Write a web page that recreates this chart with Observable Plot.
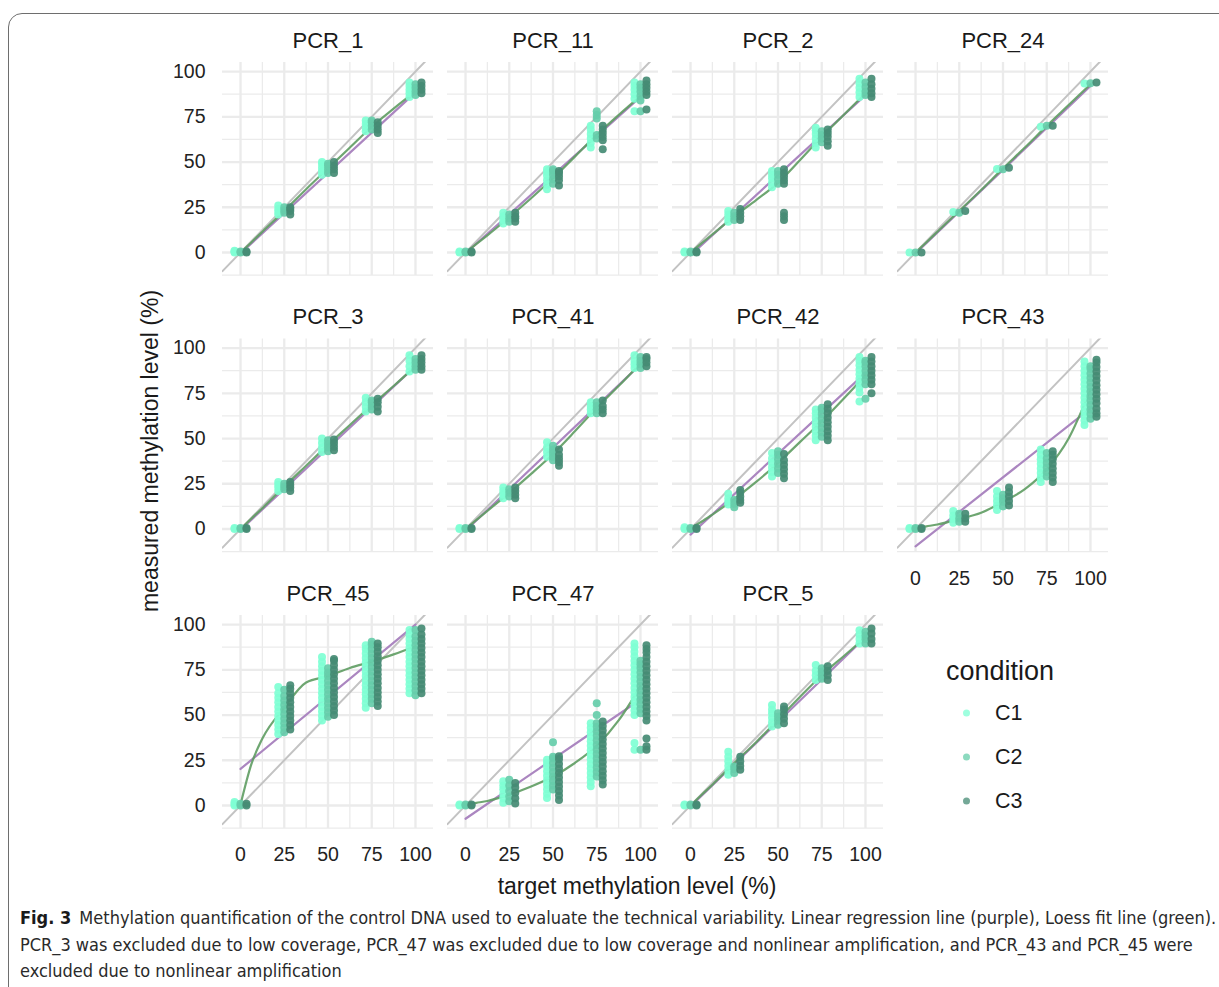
<!DOCTYPE html>
<html><head><meta charset="utf-8">
<script src="https://cdn.jsdelivr.net/npm/d3@7"></script>
<script src="https://cdn.jsdelivr.net/npm/@observablehq/plot@0.6"></script>
<style>
html,body{margin:0;padding:0;background:#fff;overflow:hidden;}
#wrap{position:relative;width:1219px;height:987px;font-family:"Liberation Sans",Arial,Helvetica,sans-serif;color:#1a1a1a;overflow:hidden;}
#frame{position:absolute;left:8px;top:13px;width:1300px;height:1100px;border:1px solid #6e6e6e;border-radius:14px;box-sizing:border-box;}
#chart{position:absolute;left:0;top:0;}
.ytitle{position:absolute;left:150px;top:451px;transform:translate(-50%,-50%) rotate(-90deg);font-size:23px;white-space:nowrap;}
.xtitle{position:absolute;left:637px;top:886px;transform:translate(-50%,-50%);font-size:23px;white-space:nowrap;}
.legtitle{position:absolute;left:946px;top:671px;transform:translateY(-50%);font-size:27px;white-space:nowrap;}
.legitem{position:absolute;left:960px;transform:translateY(-50%);font-size:21.5px;white-space:nowrap;display:flex;align-items:center;}
.legitem span.dot{display:inline-block;width:7px;height:7px;border-radius:50%;margin-right:25px;margin-left:3px;}
#caption{position:absolute;left:20px;top:905px;width:1195px;font-family:"Liberation Sans Narrow","DejaVu Sans Condensed","Roboto Condensed",sans-serif;font-size:18px;line-height:26.5px;color:#2a2a2a;white-space:nowrap;}
#caption b{font-weight:bold;color:#1a1a1a;}
</style>
</head>
<body>
<div id="wrap">
  <div id="frame"></div>
  <div id="chart"></div>
  <div class="ytitle">measured methylation level (%)</div>
  <div class="xtitle">target methylation level (%)</div>
  <div id="legend"></div>
  <div id="caption"></div>
</div>
<script>
// ---------- data ----------
const targets = [0, 25, 50, 75, 100];
const conditions = ["C1", "C2", "C3"];
const conditionColors = ["#7FFFD4", "#66CDAA", "#458B74"];
const panels = ["PCR_1", "PCR_11", "PCR_2", "PCR_24", "PCR_3", "PCR_41", "PCR_42", "PCR_43", "PCR_45", "PCR_47", "PCR_5"];
const majorTicks = [0, 25, 50, 75, 100];
const minorTicksX = [12.5, 37.5, 62.5, 87.5];
const minorTicksY = [-12.5, 12.5, 37.5, 62.5, 87.5];
const loessX = [0, 6.25, 12.5, 25, 37.5, 50, 62.5, 75, 87.5, 100];
const lmX = [0, 100];

// measured values per condition, one list per target level (0,25,50,75,100)
const PCR_1 = {
  C1: [[0, 0.5, 1], [21, 22.5, 24, 26], [43, 45, 47, 49, 50], [67, 69, 71, 73], [86, 88, 90, 92, 94]],
  C2: [[0, 0.5], [22, 23.5, 25], [44, 46, 48, 49], [68, 70, 72, 73], [87, 89, 91, 93]],
  C3: [[0, 0.5], [21, 23, 24, 25], [44, 46, 48, 50], [66, 68, 70, 72], [88, 90, 92, 94]],
  lm: [-0.5, 88.5],
  loess: [0, 5.7, 11.5, 23, 35, 46.5, 58, 69.5, 79.5, 89]
};
const PCR_11 = {
  C1: [[0, 0.5], [16, 18, 20, 22], [35, 37.5, 40, 42.5, 44.5, 46], [58, 60.5, 63, 65.5, 68, 70], [78, 85, 87.5, 90, 92, 94]],
  C2: [[0, 0.5], [17, 19, 21], [38, 40.5, 43, 45, 46], [63, 65, 74, 76, 78], [78, 84, 86.5, 89, 91, 93]],
  C3: [[0, 0.5], [17, 19, 20, 22], [37, 40, 42, 44, 45], [57, 62, 64, 66, 68, 70], [79, 87, 89, 91, 93, 95]],
  lm: [-0.5, 86],
  loess: [0, 4.8, 9.5, 19.5, 30, 41, 53, 65, 76, 86.5]
};
const PCR_2 = {
  C1: [[0, 0.5], [17, 19, 21, 23], [36, 38.5, 41, 43, 45], [58, 60.5, 63, 65.5, 67.5, 69], [86, 88.5, 91, 93.5, 96]],
  C2: [[0, 0.5], [18, 20, 22], [38, 40.5, 43, 45], [61, 63, 65, 67], [87, 89, 91.5, 94]],
  C3: [[0, 0.5], [18, 20, 22, 24], [38, 40, 42, 44, 46, 18, 20, 22], [59, 61.5, 64, 66, 68], [86, 88, 90.5, 93, 96]],
  lm: [-1.5, 87],
  loess: [0, 5, 10, 20, 29, 38.5, 51, 64, 76, 88]
};
const PCR_24 = {
  C1: [[0], [22.4], [46.2], [69.5], [93.4]],
  C2: [[0], [22], [46], [70], [93.5]],
  C3: [[0], [23], [46.8], [70.1], [94]],
  lm: [-0.5, 92],
  loess: [0, 5.7, 11.5, 23, 34.5, 46.5, 58, 70, 81.5, 93]
};
const PCR_3 = {
  C1: [[0, 0.5], [21, 23, 24.5, 26], [42.5, 45, 47.5, 50], [65, 67.5, 70, 72.5], [87, 90, 93, 96]],
  C2: [[0, 0.5], [22, 23.5, 25], [43, 45, 47, 49], [66, 68, 70, 71], [88, 90, 92, 94]],
  C3: [[0, 0.5], [21, 23, 24.5, 26], [43.5, 45.5, 47.5, 49.5], [65, 67.5, 70, 72], [88, 90, 92, 94, 96]],
  lm: [-0.5, 90],
  loess: [0, 5.8, 11.5, 23.5, 35, 46.5, 57.5, 68.5, 79, 90]
};
const PCR_41 = {
  C1: [[0, 0.5], [17, 19, 21, 23], [40, 42.5, 45, 48], [64, 66, 68, 70], [89, 91, 93, 96]],
  C2: [[0, 0.5], [18, 20, 22], [38, 40, 42, 44, 46], [64, 66, 68, 70], [89, 91, 93, 95]],
  C3: [[0, 0.5], [17, 19, 21, 23], [35, 37, 39, 41, 44], [64, 66, 68, 71], [90, 92, 94, 95]],
  lm: [-1, 91],
  loess: [0, 5, 10, 20, 30.5, 41.5, 54, 67, 79, 91.5]
};
const PCR_42 = {
  C1: [[0, 1], [13.5, 15, 17, 19.5], [29, 31.5, 34, 36.5, 39, 42], [49, 51.5, 54, 56.5, 59, 61.5, 64, 66], [70.5, 75.5, 78, 80.5, 83, 85.5, 88, 90.5, 93, 95]],
  C2: [[0, 0.5], [12, 14, 16], [31, 33.5, 36, 38.5, 41, 43], [51, 53.5, 56, 58.5, 61, 63.5, 66, 67], [72, 80, 82.5, 85, 87.5, 90, 92, 93]],
  C3: [[0, 0.5], [14.5, 16, 18, 20, 21.5], [28, 30.5, 33, 35.5, 38, 41.5], [49, 51.5, 54, 56.5, 59, 61.5, 64, 66.5, 69], [75, 80, 82.5, 85, 87.5, 90, 92.5, 95]],
  lm: [-3.1, 86.3],
  loess: [0.5, 4, 8, 16.5, 26, 36.5, 48, 59.5, 72, 85]
};
const PCR_43 = {
  C1: [[0, 0.5], [3.5, 5.5, 7.5, 10], [10.5, 13, 15.5, 18, 21], [26, 28.5, 31, 33.5, 36, 38.5, 41, 44], [57.5, 60, 62.5, 65, 67.5, 70, 72.5, 75, 77.5, 80, 82.5, 85, 87.5, 90, 92.5]],
  C2: [[0, 0.5], [4, 6, 8.5], [12.5, 15, 17, 19], [29, 31.5, 34, 36.5, 39, 42], [61, 63.5, 66, 68.5, 71, 73.5, 76, 78.5, 81, 83.5, 86, 88.5, 90]],
  C3: [[0, 0.5], [4, 6, 8.5], [13, 15.5, 18, 20.5, 23], [26, 28.5, 31, 33.5, 36, 38.5, 41, 43], [62, 64, 66.5, 69.5, 72, 74.5, 77, 79.5, 82, 84.5, 87, 89.5, 92, 93.5]],
  lm: [-9.6, 66.7],
  loess: [0.5, 1.5, 2.5, 5.5, 9, 15, 22, 33, 50, 77]
};
const PCR_45 = {
  C1: [[0, 1, 2], [39.5, 42, 44.5, 47, 49.5, 52, 54.5, 57, 59.5, 62, 65.5], [47, 49.5, 52, 54.5, 57, 59.5, 62, 64.5, 67, 69.5, 72, 74.5, 77, 79.5, 82], [54, 56.5, 59, 61.5, 64, 66.5, 69, 71.5, 74, 76.5, 79, 81.5, 84, 86.5, 88.5], [62, 64.5, 67, 69.5, 72, 74.5, 77, 79.5, 82, 84.5, 87, 89.5, 92, 94.5, 97]],
  C2: [[0, 1], [40.5, 43, 45.5, 48, 50.5, 53, 55.5, 58, 60.5, 64], [49, 51.5, 54, 56.5, 59, 61.5, 64, 66.5, 69, 71.5, 73.5, 75.8], [56.5, 59, 61.5, 64, 66.5, 69, 71.5, 74, 76.5, 79, 81.5, 84, 86.5, 89, 90.5], [61, 63.5, 66, 68.5, 71, 73.5, 76, 78.5, 81, 83.5, 86, 88.5, 91, 93.5, 97]],
  C3: [[0, 1], [42, 44.5, 47, 49.5, 52, 54.5, 57, 59.5, 62, 64.5, 66.5], [50, 52.5, 55, 57.5, 60, 62.5, 65, 67.5, 70, 72.5, 75, 77.5, 80, 81], [55, 57.5, 60, 62.5, 65, 67.5, 70, 72.5, 75, 77.5, 80, 82.5, 85, 87.5, 89.5], [62, 64.5, 67, 69.5, 72, 74.5, 77, 79.5, 82, 84.5, 87, 89.5, 92, 94.5, 97.8]],
  lm: [20.2, 100],
  loess: [0.5, 23, 37, 54, 68, 71.5, 76, 79.5, 83.5, 88]
};
const PCR_47 = {
  C1: [[0, 0.5], [1.5, 4, 6.5, 9, 11, 13.4], [4.2, 6.5, 9, 11.5, 14, 16.5, 19, 21.5, 23.5, 25.3], [10.6, 13, 15.5, 18, 20.5, 23, 25.5, 28, 30.5, 33, 35.5, 38, 40.5, 43, 45.5], [30.8, 34.5, 50, 52.5, 55, 57.5, 60, 62.5, 65, 67.5, 70, 72.5, 75, 77.5, 80, 82.5, 85, 87.5, 89.5]],
  C2: [[0, 0.5], [2.4, 5, 8, 11, 14.3], [8.8, 11, 13.5, 16, 18.5, 21, 23.5, 26, 27, 34.9], [16, 18.5, 21, 23.5, 26, 28.5, 31, 33.5, 36, 38.5, 41, 43.5, 45.5, 50, 56.5], [30.8, 51, 53.5, 56, 58.5, 61, 63.5, 66, 68.5, 71, 73.5, 76, 78, 80]],
  C3: [[0, 0.5], [1.1, 4, 7, 10, 12.5], [3, 5.5, 8, 10.5, 13, 15.5, 18, 20.5, 23, 25.5, 27.2], [11.6, 14, 16.5, 19, 21.5, 24, 26.5, 29, 31.5, 34, 36.5, 39, 41.5, 44, 46.4], [30.8, 32.7, 37, 47, 49.5, 52, 54.5, 57, 59.5, 62, 64.5, 67, 69.5, 72, 74.5, 77, 79.5, 82, 84.5, 86.5, 88.6]],
  lm: [-7.3, 58.6],
  loess: [0.5, 1.5, 2.5, 6, 10.5, 16, 23.5, 33, 47, 66]
};
const PCR_5 = {
  C1: [[0, 0.5], [17, 19.5, 22, 24.5, 27, 29.7], [43.7, 46, 48.5, 51, 53, 55.6], [69.4, 72, 74.5, 77.6], [89.5, 92, 94.5, 96.9]],
  C2: [[0, 0.5], [18, 20, 21.6], [44.6, 47, 49, 51], [70, 72, 74, 75.8], [89.5, 92, 94, 96]],
  C3: [[0, 0.5], [19.8, 22, 24.5, 27], [45.5, 48, 50.5, 53, 54.7], [69.4, 72, 74.5, 77], [89.5, 92, 95, 97.8]],
  lm: [-0.5, 93],
  loess: [0, 5.8, 11.5, 23.5, 35, 47.5, 60, 72, 82.5, 93]
};
const panelSets = [PCR_1, PCR_11, PCR_2, PCR_24, PCR_3, PCR_41, PCR_42, PCR_43, PCR_45, PCR_47, PCR_5];

// ---------- build tables ----------
const xDomain = [-10.3, 110.3];
const yDomain = [-12.7, 105];
const points = [], lmRows = [], loessRows = [], strips = [];
panels.forEach((name, i) => {
  const col = i % 4, row = Math.floor(i / 4);
  const set = panelSets[i];
  strips.push({name, col, row});
  conditions.forEach(c => set[c].forEach((vals, k) => vals.forEach(v =>
    points.push({panel: name, col, row, cond: c, target: targets[k], value: v}))));
  lmX.forEach((x, j) => lmRows.push({col, row, x, y: set.lm[j]}));
  loessX.forEach((x, j) => loessRows.push({col, row, x, y: set.loess[j]}));
});

const dodge = [-6, 0, 6];
const chart = Plot.plot({
  width: 1219,
  height: 900,
  marginLeft: 222,
  marginRight: 111,
  marginTop: 62,
  marginBottom: 72,
  style: {fontFamily: "'Liberation Sans', Arial, Helvetica, sans-serif", color: "#222", background: "transparent", overflow: "visible"},
  fx: {axis: null, domain: [0, 1, 2, 3], paddingInner: 14 / 225, paddingOuter: 0, round: false},
  fy: {axis: null, domain: [0, 1, 2], paddingInner: 63.5 / 276.5, paddingOuter: 0, round: false},
  x: {domain: xDomain},
  y: {domain: yDomain},
  marks: [
    Plot.gridX(minorTicksX, {stroke: "#ebebeb", strokeOpacity: 1, strokeWidth: 1.3}),
    Plot.gridY(minorTicksY, {stroke: "#ebebeb", strokeOpacity: 1, strokeWidth: 1.3}),
    Plot.gridX(majorTicks, {stroke: "#ebebeb", strokeOpacity: 1, strokeWidth: 2.3}),
    Plot.gridY(majorTicks, {stroke: "#ebebeb", strokeOpacity: 1, strokeWidth: 2.3}),
    Plot.axisY(majorTicks, {tickSize: 0, tickPadding: 17, fontSize: 19.5, label: null, facetAnchor: "left", fill: "#222"}),
    Plot.axisX(majorTicks, {tickSize: 0, tickPadding: 19, fontSize: 19.5, label: null, facetAnchor: "bottom-empty", fill: "#222"}),
    Plot.line(xDomain, {x: d => d, y: d => d, stroke: "#c3c3c3", strokeWidth: 2, clip: true}),
    Plot.line(lmRows, {fx: "col", fy: "row", x: "x", y: "y", stroke: "#ab86c0", strokeWidth: 2.2}),
    Plot.line(loessRows, {fx: "col", fy: "row", x: "x", y: "y", stroke: "#5e9c62", strokeWidth: 2.2, strokeOpacity: 0.9, curve: "monotone-x"}),
    ...conditions.map((c, j) => Plot.dot(points.filter(d => d.cond === c), {
      fx: "col", fy: "row", x: "target", y: "value", dx: dodge[j], r: 4,
      fill: conditionColors[j], fillOpacity: 0.92, stroke: "none"
    })),
    Plot.text(strips, {fx: "col", fy: "row", text: "name", frameAnchor: "top", dy: -15, lineAnchor: "bottom", fontSize: 22, fill: "#1a1a1a"})
  ]
});
document.getElementById("chart").appendChild(chart);

// legend
const legend = document.getElementById("legend");
const lt = document.createElement("div");
lt.className = "legtitle"; lt.textContent = "condition";
legend.appendChild(lt);
conditions.forEach((c, j) => {
  const it = document.createElement("div");
  it.className = "legitem";
  it.style.top = (713 + 44 * j) + "px";
  const dot = document.createElement("span");
  dot.className = "dot";
  dot.style.background = conditionColors[j];
  dot.style.opacity = 0.75;
  it.appendChild(dot);
  it.appendChild(document.createTextNode(c));
  legend.appendChild(it);
});

// caption
const captionLines = [
  "Methylation quantification of the control DNA used to evaluate the technical variability. Linear regression line (purple), Loess fit line (green).",
  "PCR_3 was excluded due to low coverage, PCR_47 was excluded due to low coverage and nonlinear amplification, and PCR_43 and PCR_45 were",
  "excluded due to nonlinear amplification"
];
const cap = document.getElementById("caption");
captionLines.forEach((line, i) => {
  const div = document.createElement("div");
  if (i === 0) {
    const b = document.createElement("b");
    b.textContent = "Fig. 3";
    div.appendChild(b);
    div.appendChild(document.createTextNode("\u2002" + line));
  } else div.textContent = line;
  cap.appendChild(div);
});
</script>
</body></html>
